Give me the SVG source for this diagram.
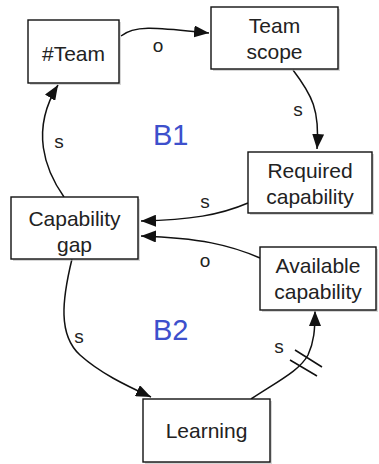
<svg xmlns="http://www.w3.org/2000/svg" width="379" height="464" viewBox="0 0 379 464">
<style>
.box{fill:#fff;stroke:#111;stroke-width:1.4}
.sh{fill:#bbb;opacity:0.6}
.t{font-family:"Liberation Sans",Arial,sans-serif;font-size:21px;fill:#222;text-anchor:middle}
.lbl{font-family:"Liberation Sans",Arial,sans-serif;font-size:19px;fill:#222;text-anchor:middle}
.loop{font-family:"Liberation Sans",Arial,sans-serif;font-size:29px;fill:#3d50cc}
.c{fill:none;stroke:#111;stroke-width:1.5}
</style>
<defs>
<marker id="ah" markerUnits="userSpaceOnUse" markerWidth="16" markerHeight="12" refX="15" refY="6" orient="auto">
<path d="M0,0 L15,6 L0,12 Z" fill="#111"/>
</marker>
</defs>
<g id="connectors">
<path class="c" d="M121,36 C135,24 160,28 209,33" marker-end="url(#ah)"/>
<path class="c" d="M293,70 C312,95 320,110 317,149" marker-end="url(#ah)"/>
<path class="c" d="M64,197 C45,170 30,130 58,85" marker-end="url(#ah)"/>
<path class="c" d="M248,203 C220,215 190,220 141,221" marker-end="url(#ah)"/>
<path class="c" d="M260,258 C230,245 200,238 141,236" marker-end="url(#ah)"/>
<path class="c" d="M72,259 C62,300 58,335 80,355 C100,373 125,385 151,397" marker-end="url(#ah)"/>
<path class="c" d="M251,399 C280,380 300,370 308,355 C314,342 315,330 315,311" marker-end="url(#ah)"/>
<path class="c" d="M295,350 L322,367 M290,360 L317,376"/>
<text class="lbl" x="158" y="52">o</text>
<text class="lbl" x="298" y="116">s</text>
<text class="lbl" x="59" y="148">s</text>
<text class="lbl" x="205" y="208">s</text>
<text class="lbl" x="205" y="267">o</text>
<text class="lbl" x="79" y="343">s</text>
<text class="lbl" x="279" y="353">s</text>
</g>
<g id="team">
<rect class="sh" x="30" y="22" width="91" height="63"/>
<rect class="box" x="28" y="20" width="91" height="63"/>
<text class="t" x="73.5" y="61">#Team</text>
</g>
<g id="team-scope">
<rect class="sh" x="213" y="9" width="127" height="62"/>
<rect class="box" x="211" y="7" width="127" height="62"/>
<text class="t" x="274.5" y="33">Team</text>
<text class="t" x="274.5" y="59">scope</text>
</g>
<g id="required-capability">
<rect class="sh" x="250" y="154" width="124" height="61"/>
<rect class="box" x="248" y="152" width="124" height="61"/>
<text class="t" x="310" y="178">Required</text>
<text class="t" x="310" y="204">capability</text>
</g>
<g id="capability-gap">
<rect class="sh" x="13" y="199" width="127" height="62"/>
<rect class="box" x="11" y="197" width="127" height="62"/>
<text class="t" x="74.5" y="226">Capability</text>
<text class="t" x="74.5" y="252">gap</text>
</g>
<g id="available-capability">
<rect class="sh" x="262" y="249" width="116" height="63"/>
<rect class="box" x="260" y="247" width="116" height="63"/>
<text class="t" x="318" y="273">Available</text>
<text class="t" x="318" y="299">capability</text>
</g>
<g id="learning">
<rect class="sh" x="145" y="401" width="127" height="64"/>
<rect class="box" x="143" y="399" width="127" height="63"/>
<text class="t" x="206.5" y="438">Learning</text>
</g>
<g id="loops">
<text class="loop" x="153" y="145">B1</text>
<text class="loop" x="153" y="340">B2</text>
</g>
</svg>
